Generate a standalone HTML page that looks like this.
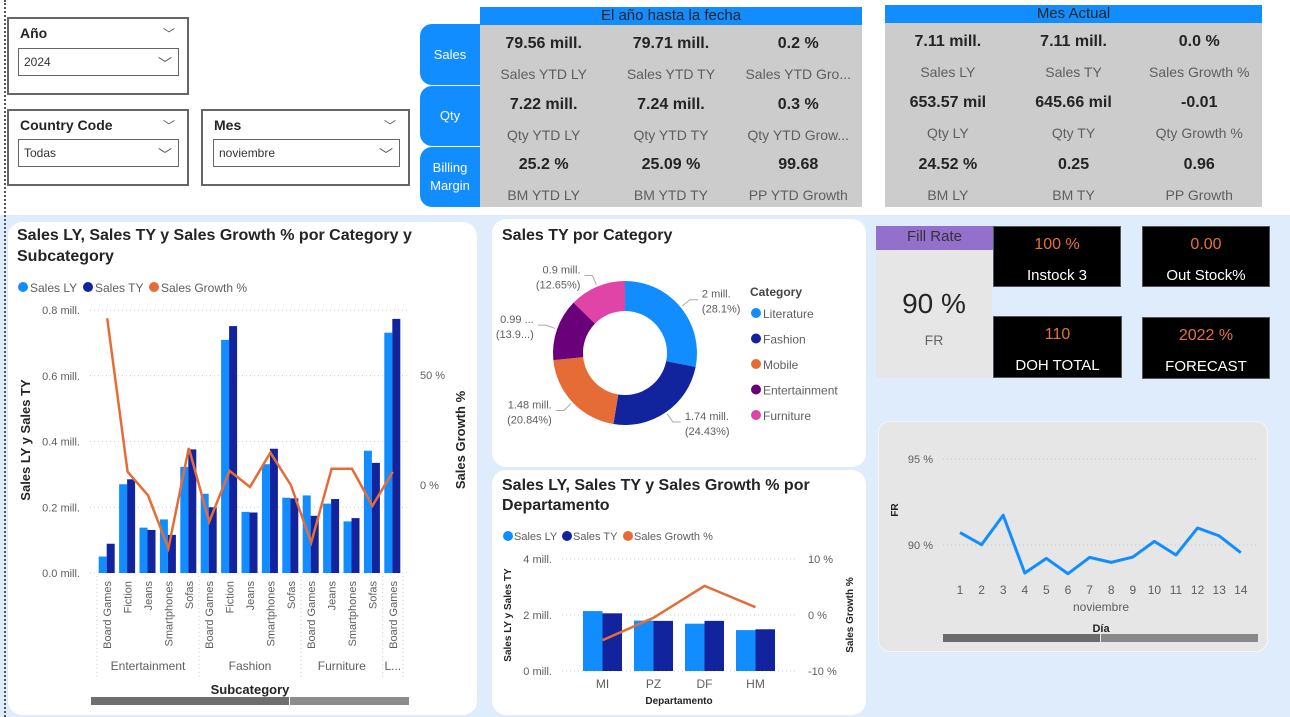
<!DOCTYPE html>
<html><head><meta charset="utf-8">
<style>
*{box-sizing:border-box;margin:0;padding:0}
body{width:1290px;height:717px;position:relative;overflow:hidden;background:#fff;font-family:"Liberation Sans",sans-serif;color:#252423}
.abs{position:absolute}
.slicer{position:absolute;border:2px solid #666;background:#fff}
.slicer .t{position:absolute;left:11px;top:6px;font-size:14px;font-weight:bold;color:#252423}
.slicer .chev{position:absolute;right:12px;top:6px;font-size:12px;color:#555}
.dd{position:absolute;border:1.5px solid #666;background:#fff;font-size:12px;color:#333;padding:6px 0 0 5px}
.dd span{position:absolute;right:6px;top:5px;font-size:14px;color:#555}
.hdr{position:absolute;background:#118dff;color:#252423;text-align:center;font-size:15px;line-height:18px}
.grid{position:absolute;background:#cccccc}
.cell{position:absolute;text-align:center;white-space:nowrap;overflow:hidden}
.cell .v{font-size:16px;font-weight:bold;color:#252423;position:absolute;left:0;right:0}
.cell .l{font-size:14px;color:#605e5c;position:absolute;left:0;right:0}
.btn{position:absolute;background:#118dff;color:#fff;font-size:13px;text-align:center;border-radius:12px 0 0 12px;display:flex;align-items:center;justify-content:center;line-height:18px}
.card{position:absolute;background:#fff;border-radius:14px}
.blk{position:absolute;background:#000;border:1px solid #555;text-align:center}
.blk .v{position:absolute;left:0;right:0;top:9px;color:#e8703a;font-size:16px}
.blk .l{position:absolute;left:0;right:0;top:40px;color:#fff;font-size:15px}
</style></head><body>
<div class="abs" style="left:0;top:215px;width:1290px;height:502px;background:#deecfb"></div>
<div class="abs" style="left:4px;top:0;width:0;height:717px;border-left:2px dotted #555"></div>

<div class="slicer" style="left:7px;top:17px;width:182px;height:78px">
 <div class="t">Año</div><div class="chev">﹀</div>
 <div class="dd" style="left:9px;top:29px;width:161px;height:28px">2024<span>﹀</span></div>
</div>
<div class="slicer" style="left:7px;top:109px;width:182px;height:77px">
 <div class="t">Country Code</div><div class="chev">﹀</div>
 <div class="dd" style="left:9px;top:28px;width:161px;height:28px">Todas<span>﹀</span></div>
</div>
<div class="slicer" style="left:201px;top:109px;width:209px;height:77px">
 <div class="t">Mes</div><div class="chev">﹀</div>
 <div class="dd" style="left:10px;top:28px;width:187px;height:28px">noviembre<span>﹀</span></div>
</div>

<div class="hdr" style="left:480px;top:7px;width:382px;height:18px">El año hasta la fecha</div>
<div class="grid" style="left:480px;top:25px;width:382px;height:182px"></div>
<div class="btn" style="left:420px;top:24px;width:60px;height:61px">Sales</div>
<div class="btn" style="left:420px;top:86px;width:60px;height:60px">Qty</div>
<div class="btn" style="left:420px;top:147px;width:60px;height:60px">Billing<br>Margin</div>
<div id="ytd"></div>

<div class="hdr" style="left:885px;top:5px;width:377px;height:18px">Mes Actual</div>
<div class="grid" style="left:885px;top:23px;width:377px;height:184px"></div>
<div id="mes"></div>

<div class="card" style="left:8px;top:222px;width:469px;height:493px"></div>
<div class="card" style="left:492px;top:219px;width:374px;height:248px"></div>
<div class="card" style="left:492px;top:470px;width:374px;height:245px"></div>
<div class="abs" style="left:878px;top:421px;width:390px;height:231px;background:#e6e6e6;border-radius:12px;border:1px solid #f4f4f4"></div>

<div class="abs" style="left:876px;top:226px;width:117px;height:24px;background:#9370cc;text-align:center;font-size:15px;line-height:22px;color:#333">Fill Rate</div>
<div class="abs" style="left:876px;top:250px;width:116px;height:128px;background:#e6e6e6;text-align:center">
 <div style="position:absolute;left:0;right:0;top:38px;font-size:28px;color:#252423">90 %</div>
 <div style="position:absolute;left:0;right:0;top:82px;font-size:14px;color:#666">FR</div>
</div>
<div class="blk" style="left:993px;top:226px;width:128px;height:61px"><div class="v">100 %</div><div class="l">Instock 3</div></div>
<div class="blk" style="left:1142px;top:226px;width:128px;height:61px"><div class="v">0.00</div><div class="l">Out Stock%</div></div>
<div class="blk" style="left:993px;top:316px;width:129px;height:62px"><div class="v">110</div><div class="l">DOH TOTAL</div></div>
<div class="blk" style="left:1142px;top:317px;width:128px;height:62px"><div class="v">2022 %</div><div class="l">FORECAST</div></div>

<svg id="s" class="abs" style="left:0;top:0" width="1290" height="717" font-family="Liberation Sans, sans-serif"></svg>

<script>
const ytdValues=["79.56 mill.","79.71 mill.","0.2 %","7.22 mill.","7.24 mill.","0.3 %","25.2 %","25.09 %","99.68"];
const ytdLabels=["Sales YTD LY","Sales YTD TY","Sales YTD Gro...","Qty YTD LY","Qty YTD TY","Qty YTD Grow...","BM YTD LY","BM YTD TY","PP YTD Growth"];
const mesValues=["7.11 mill.","7.11 mill.","0.0 %","653.57 mil","645.66 mil","-0.01","24.52 %","0.25","0.96"];
const mesLabels=["Sales LY","Sales TY","Sales Growth %","Qty LY","Qty TY","Qty Growth %","BM LY","BM TY","PP Growth"];
const subcats=["Board Games","Fiction","Jeans","Smartphones","Sofas","Board Games","Fiction","Jeans","Smartphones","Sofas","Board Games","Jeans","Smartphones","Sofas","Board Games"];
const catGroups=["Entertainment","Fashion","Furniture","L..."];
const catGroupSizes=[5,5,4,1];
const salesLY=[0.05,0.27,0.138,0.163,0.323,0.241,0.709,0.186,0.331,0.229,0.236,0.211,0.157,0.372,0.731];
const salesTY=[0.089,0.285,0.131,0.116,0.376,0.2,0.751,0.184,0.378,0.227,0.174,0.225,0.167,0.335,0.773];
const growth=[75.8,6,-4.7,-28.8,16.8,-16.7,6.4,-0.9,14.7,0,-26.2,7.4,7.4,-9.5,6];
const leftTicks=[0,0.2,0.4,0.6,0.8];
const leftTickLabels=["0.0 mill.","0.2 mill.","0.4 mill.","0.6 mill.","0.8 mill."];
const rightTicks=[0,50];
const rightTickLabels=["0 %","50 %"];
const donutCats=["Literature","Fashion","Mobile","Entertainment","Furniture"];
const donutPct=[28.1,24.43,20.84,13.9,12.65];
const donutLbl1=["2 mill.","1.74 mill.","1.48 mill.","0.99 ...","0.9 mill."];
const donutLbl2=["(28.1%)","(24.43%)","(20.84%)","(13.9...)","(12.65%)"];
const depts=["MI","PZ","DF","HM"];
const deptLY=[2.14,1.8,1.69,1.46];
const deptTY=[2.06,1.79,1.79,1.49];
const deptGrowth=[-4.5,-0.5,5.2,1.4];
const deptLeftTicks=[0,2,4];
const deptLeftLabels=["0 mill.","2 mill.","4 mill."];
const deptRightTicks=[-10,0,10];
const deptRightLabels=["-10 %","0 %","10 %"];
const days=[1,2,3,4,5,6,7,8,9,10,11,12,13,14];
const frValues=[90.72,90.02,91.73,88.37,89.22,88.33,89.28,88.99,89.3,90.21,89.42,90.99,90.53,89.55];
const frTicks=[90,95];
const frTickLabels=["90 %","95 %"];

const C1="#118dff",C2="#12239e",C3="#e66c37";
function grid(id,left,top,colW,rowH,vals,labs,vOff,lOff,nm){
  const host=document.getElementById(id);
  for(let i=0;i<9;i++){
    const r=Math.floor(i/3),c=i%3;
    const d=document.createElement('div');d.className='cell';
    
    
    d.style.left=(left+c*colW)+'px';d.style.top=(top+r*rowH)+'px';d.style.width=colW+'px';d.style.height=rowH+'px';
    d.innerHTML='<div class="v" style="top:'+vOff+'px">'+vals[i]+'</div><div class="l" style="top:'+lOff+'px">'+labs[i]+'</div>';
    host.appendChild(d);
  }
}
grid('ytd',480,25,127.3,60.7,ytdValues,ytdLabels,10,41,'ytd');
grid('mes',885,23,125.7,61.3,mesValues,mesLabels,10,41,'month');

const S=document.getElementById('s');const NS="http://www.w3.org/2000/svg";
function el(tag,attrs,parent,txt){const e=document.createElementNS(NS,tag);for(const k in attrs)e.setAttribute(k,attrs[k]);if(txt!==undefined)e.textContent=txt;(parent||S).appendChild(e);return e;}
function txt(x,y,s,opt,name){const o=Object.assign({x:x,y:y,'font-size':12,fill:'#605e5c'},opt||{});const t=el('text',o,null,s);
  
  return t;}

(function(){
  const x0=97,x1=403,n=subcats.length,gw=(x1-x0)/n;
  const yL=v=>573-v/0.8*263, yR=g=>485-g/50*110;
  txt(17,240,"Sales LY, Sales TY y Sales Growth % por Category y",{'font-size':16,'font-weight':'bold',fill:'#252423'},'category-chart-title');
  txt(17,261,"Subcategory",{'font-size':16,'font-weight':'bold',fill:'#252423'},'category-chart-title-2');
  const leg=[["Sales LY",C1,23],["Sales TY",C2,88],["Sales Growth %",C3,154]];
  leg.forEach(l=>{const c=el('circle',{cx:l[2],cy:287,r:5,fill:l[1]});
    txt(l[2]+7,292,l[0],{'font-size':12},'legend-entry');});
  leftTicks.forEach((t,i)=>{const g=el('line',{x1:90,x2:407,y1:yL(t),y2:yL(t),stroke:'#ccc','stroke-dasharray':'1 3'});
    txt(80,yL(t)+4,leftTickLabels[i],{'font-size':11,'text-anchor':'end'},'y-tick-label');});
  rightTicks.forEach((t,i)=>txt(420,yR(t)+4,rightTickLabels[i],{'font-size':11},'y2-tick-label'));
  for(let i=0;i<n;i++){
    const cx=x0+gw*(i+0.5);
    const b1=el('rect',{x:cx-8.5,y:yL(salesLY[i]),width:8,height:573-yL(salesLY[i]),fill:C1});
    
    const b2=el('rect',{x:cx-0.5,y:yL(salesTY[i]),width:8,height:573-yL(salesTY[i]),fill:C2});
    
    txt(0,0,subcats[i],{'font-size':11,'text-anchor':'end',transform:'translate('+(cx+4)+',581) rotate(-90)'},'x-tick-label');
  }
  el('polyline',{points:growth.map((g,i)=>(x0+gw*(i+0.5))+','+yR(g)).join(' '),fill:'none',stroke:C3,'stroke-width':2.5});
  let s=0;
  catGroups.forEach((c,i)=>{const a=x0+gw*s,b=x0+gw*(s+catGroupSizes[i]);
    const l=el('line',{x1:a,x2:a,y1:576,y2:678,stroke:'#ccc','stroke-dasharray':'1 3'});
    txt((a+b)/2,670,c,{'font-size':12,'text-anchor':'middle'},'category-label');s+=catGroupSizes[i];});
  el('line',{x1:x1,x2:x1,y1:576,y2:678,stroke:'#ccc','stroke-dasharray':'1 3'});
  txt(250,694,"Subcategory",{'font-size':13,'font-weight':'bold',fill:'#252423','text-anchor':'middle'},'x-axis-title');
  txt(0,0,"Sales LY y Sales TY",{'font-size':13,'font-weight':'bold',fill:'#252423','text-anchor':'middle',transform:'translate(30,440) rotate(-90)'},'y-axis-title');
  txt(0,0,"Sales Growth %",{'font-size':13,'font-weight':'bold',fill:'#252423','text-anchor':'middle',transform:'translate(465,440) rotate(-90)'},'y2-axis-title');
  const sb1=el('rect',{x:91,y:697,width:198,height:8,fill:'#6e6e6e'});
  el('rect',{x:290,y:697,width:119,height:8,fill:'#8c8c8c'});
})();

(function(){
  const cx=625,cy=353,R=72,r=42;
  const cols=[C1,C2,C3,"#6b007b","#e044a7"];
  txt(502,240,"Sales TY por Category",{'font-size':16,'font-weight':'bold',fill:'#252423'},'donut-title');
  const tot=donutPct.reduce((a,b)=>a+b,0);let a=0;
  donutPct.forEach((p,i)=>{
    const a0=a/tot*2*Math.PI,a1=(a+p)/tot*2*Math.PI;a+=p;
    const P=(ang,rad)=>[cx+rad*Math.sin(ang),cy-rad*Math.cos(ang)];
    const [x1,y1]=P(a0,R),[x2,y2]=P(a1,R),[x3,y3]=P(a1,r),[x4,y4]=P(a0,r);const lg=(a1-a0)>Math.PI?1:0;
    const pth=el('path',{d:`M${x1},${y1}A${R},${R} 0 ${lg} 1 ${x2},${y2}L${x3},${y3}A${r},${r} 0 ${lg} 0 ${x4},${y4}Z`,fill:cols[i]});
    
    const mid=(a0+a1)/2,[lx,ly]=P(mid,R+12);const right=Math.sin(mid)>0;
    const l=el('polyline',{points:`${P(mid,R+2).join(',')} ${lx},${ly} ${lx+(right?8:-8)},${ly}`,fill:'none',stroke:'#aaa'});
    
    const tx=lx+(right?12:-12),an=right?'start':'end';
    txt(tx,ly-2,donutLbl1[i],{'font-size':11,'text-anchor':an},'data-label');
    txt(tx,ly+13,donutLbl2[i],{'font-size':11,'text-anchor':an},'data-label');
  });
  txt(750,296,"Category",{'font-size':12,'font-weight':'bold',fill:'#444'},'legend-title');
  donutCats.forEach((c,i)=>{const y=313+i*25.5;const m=el('circle',{cx:756,cy:y,r:5,fill:cols[i]});
    txt(763,y+5,c,{'font-size':12},'legend-entry');});
})();

(function(){
  const yL=v=>671-v/4*112, yR=g=>615-g/10*56, x0=577,gw=51;
  txt(502,490,"Sales LY, Sales TY y Sales Growth % por",{'font-size':16,'font-weight':'bold',fill:'#252423'},'dept-chart-title');
  txt(502,510,"Departamento",{'font-size':16,'font-weight':'bold',fill:'#252423'},'dept-chart-title-2');
  [["Sales LY",C1,508],["Sales TY",C2,567],["Sales Growth %",C3,628]].forEach(l=>{const m=el('circle',{cx:l[2],cy:536,r:5,fill:l[1]});
    txt(l[2]+6,540,l[0],{'font-size':11},'legend-entry');});
  deptLeftTicks.forEach((t,i)=>{el('line',{x1:562,x2:797,y1:yL(t),y2:yL(t),stroke:'#ccc','stroke-dasharray':'1 3'});
    txt(552,yL(t)+4,deptLeftLabels[i],{'font-size':11,'text-anchor':'end'},'y-tick-label');});
  deptRightTicks.forEach((t,i)=>txt(808,yR(t)+4,deptRightLabels[i],{'font-size':11},'y2-tick-label'));
  depts.forEach((d,i)=>{const cx=x0+gw*(i+0.5);
    const b1=el('rect',{x:cx-19.5,y:yL(deptLY[i]),width:19.5,height:671-yL(deptLY[i]),fill:C1});
    const b2=el('rect',{x:cx,y:yL(deptTY[i]),width:19.5,height:671-yL(deptTY[i]),fill:C2});
    txt(cx,688,d,{'font-size':12,'text-anchor':'middle'},'x-tick-label');});
  el('polyline',{points:deptGrowth.map((g,i)=>(x0+gw*(i+0.5))+','+yR(g)).join(' '),fill:'none',stroke:C3,'stroke-width':2.5});
  txt(679,704,"Departamento",{'font-size':10,'font-weight':'bold',fill:'#252423','text-anchor':'middle'},'x-axis-title');
  txt(0,0,"Sales LY y Sales TY",{'font-size':10,'font-weight':'bold',fill:'#252423','text-anchor':'middle',transform:'translate(511,615) rotate(-90)'},'y-axis-title');
  txt(0,0,"Sales Growth %",{'font-size':10,'font-weight':'bold',fill:'#252423','text-anchor':'middle',transform:'translate(853,615) rotate(-90)'},'y2-axis-title');
})();

(function(){
  const y=v=>545-(v-90)/5*86, x=d=>960+(d-1)*21.6;
  frTicks.forEach((t,i)=>{el('line',{x1:943,x2:1256,y1:y(t),y2:y(t),stroke:'#c8c8c8','stroke-dasharray':'1 3'});
    txt(933,y(t)+4,frTickLabels[i],{'font-size':11,'text-anchor':'end'},'y-tick-label');});
  el('polyline',{points:days.map((d,i)=>x(d)+','+y(frValues[i])).join(' '),fill:'none',stroke:C1,'stroke-width':3,'stroke-linejoin':'round'});
  days.forEach(d=>txt(x(d),594,String(d),{'font-size':12,'text-anchor':'middle'},'x-tick-label'));
  txt(1101,611,"noviembre",{'font-size':12,'text-anchor':'middle'},'x-group-label');
  txt(1101,632,"Día",{'font-size':11,'font-weight':'bold',fill:'#252423','text-anchor':'middle'},'x-axis-title');
  txt(0,0,"FR",{'font-size':10,'font-weight':'bold',fill:'#252423','text-anchor':'middle',transform:'translate(898,510) rotate(-90)'},'y-axis-title');
  const a=el('rect',{x:943,y:634,width:157,height:8,fill:'#6b6b6b'});
  el('rect',{x:1101,y:634,width:157,height:8,fill:'#888'});
})();
</script>
</body></html>
